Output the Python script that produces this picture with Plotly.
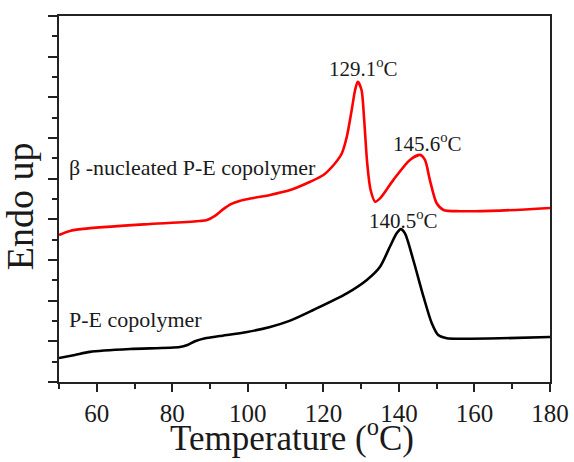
import plotly.graph_objects as go

# DSC heating scans (temperature in °C, heat flow in arbitrary units, endo up)
temp_pe = [50, 54.2, 58.2, 68.8, 82.0, 84.0, 86.0, 88.7, 92.6, 99.8, 105.9, 111.2,
           117.3, 126.2, 131.5, 135.0, 137.6, 139.4, 140.5, 141.6, 143.8, 146.5,
           148.7, 150.4, 152.7, 156.2, 166.8, 180.0]
flow_pe = [1.18, 1.33, 1.48, 1.62, 1.72, 1.82, 2.00, 2.15, 2.26, 2.46, 2.71, 3.02,
           3.54, 4.36, 5.02, 5.67, 6.65, 7.31, 7.52, 7.31, 6.00, 4.20,
           2.89, 2.31, 2.15, 2.13, 2.15, 2.21]

temp_beta = [50, 52.9, 56.4, 74.1, 87.3, 89.2, 91.3, 93.5, 95.5, 98.0, 100.6, 105.9, 111.2,
             116.5, 120.0, 123.1, 124.9, 126.2, 127.5, 128.4, 129.1, 130.1, 130.8,
             131.6, 132.5, 133.7, 135.0, 138.5, 142.9, 145.6, 146.9, 148.2, 150.0,
             151.8, 156.2, 166.8, 180.0]
flow_beta = [7.23, 7.43, 7.53, 7.77, 7.92, 7.97, 8.17, 8.50, 8.75, 8.92, 9.02, 9.20, 9.44,
             9.85, 10.18, 10.76, 11.25, 12.06, 13.38, 14.36, 14.77, 14.36, 12.89,
             10.76, 9.44, 8.87, 9.03, 9.93, 10.92, 11.17, 10.92, 9.93, 8.79,
             8.46, 8.40, 8.43, 8.56]

peak_temps = [129.1, 145.6, 140.5]
peak_label_y = [15.45, 11.8, 7.97]
peak_label_x = [130.6, 147.5, 141.2]

series_names = ["β -nucleated P-E copolymer", "P-E copolymer"]
series_label_y = [10.53, 3.05]

x_ticks = [60, 80, 100, 120, 140, 160, 180]

serif = "Liberation Serif, Times New Roman, serif"
ink = "#1a1a1a"

fig = go.Figure()
fig.add_trace(go.Scatter(x=temp_beta, y=flow_beta, mode="lines",
                         line=dict(color="#ff0000", width=2.6, shape="spline", smoothing=0.75),
                         name=series_names[0], showlegend=False))
fig.add_trace(go.Scatter(x=temp_pe, y=flow_pe, mode="lines",
                         line=dict(color="#000000", width=2.6, shape="spline", smoothing=0.75),
                         name=series_names[1], showlegend=False))

for name, yv in zip(series_names, series_label_y):
    fig.add_annotation(x=52.1, y=yv, text=name, showarrow=False, xanchor="left",
                       yanchor="middle", font=dict(family=serif, size=22, color=ink))

for t, lx, ly in zip(peak_temps, peak_label_x, peak_label_y):
    fig.add_annotation(x=lx, y=ly, text=f"{t:.1f}<sup>o</sup>C", showarrow=False,
                       xanchor="center", yanchor="middle",
                       font=dict(family=serif, size=21, color=ink))

# axis titles
fig.add_annotation(xref="paper", yref="paper", x=0.4745, y=-0.213,
                   text="Temperature (<sup>o</sup>C)", showarrow=False,
                   xanchor="center", yanchor="bottom",
                   font=dict(family=serif, size=35, color=ink))
fig.add_annotation(xref="paper", yref="paper", x=-0.079, y=0.481,
                   text="Endo up", showarrow=False, textangle=-90,
                   xanchor="center", yanchor="middle",
                   font=dict(family=serif, size=38, color=ink))

fig.update_layout(
    width=574, height=462,
    margin=dict(l=59, r=24, t=16, b=80),
    paper_bgcolor="white", plot_bgcolor="white",
    font=dict(family=serif, color=ink),
    xaxis=dict(range=[50, 180], tickvals=x_ticks, ticks="outside", ticklen=8, tickwidth=2,
               tickcolor="#222", showline=True, linewidth=2, linecolor="#222", mirror=True,
               showgrid=False, zeroline=False, automargin=False,
               tickfont=dict(family=serif, size=25, color=ink),
               minor=dict(dtick=10, tick0=50, ticks="outside", ticklen=5, tickwidth=2, tickcolor="#222")),
    yaxis=dict(range=[0, 18], tick0=0, dtick=2, ticks="outside", ticklen=9, tickwidth=2,
               tickcolor="#222", showticklabels=False, showline=True, linewidth=2,
               linecolor="#222", mirror=True, showgrid=False, zeroline=False, automargin=False,
               minor=dict(dtick=1, tick0=0, ticks="outside", ticklen=5, tickwidth=2, tickcolor="#222")),
)

fig.write_html("out.html")
